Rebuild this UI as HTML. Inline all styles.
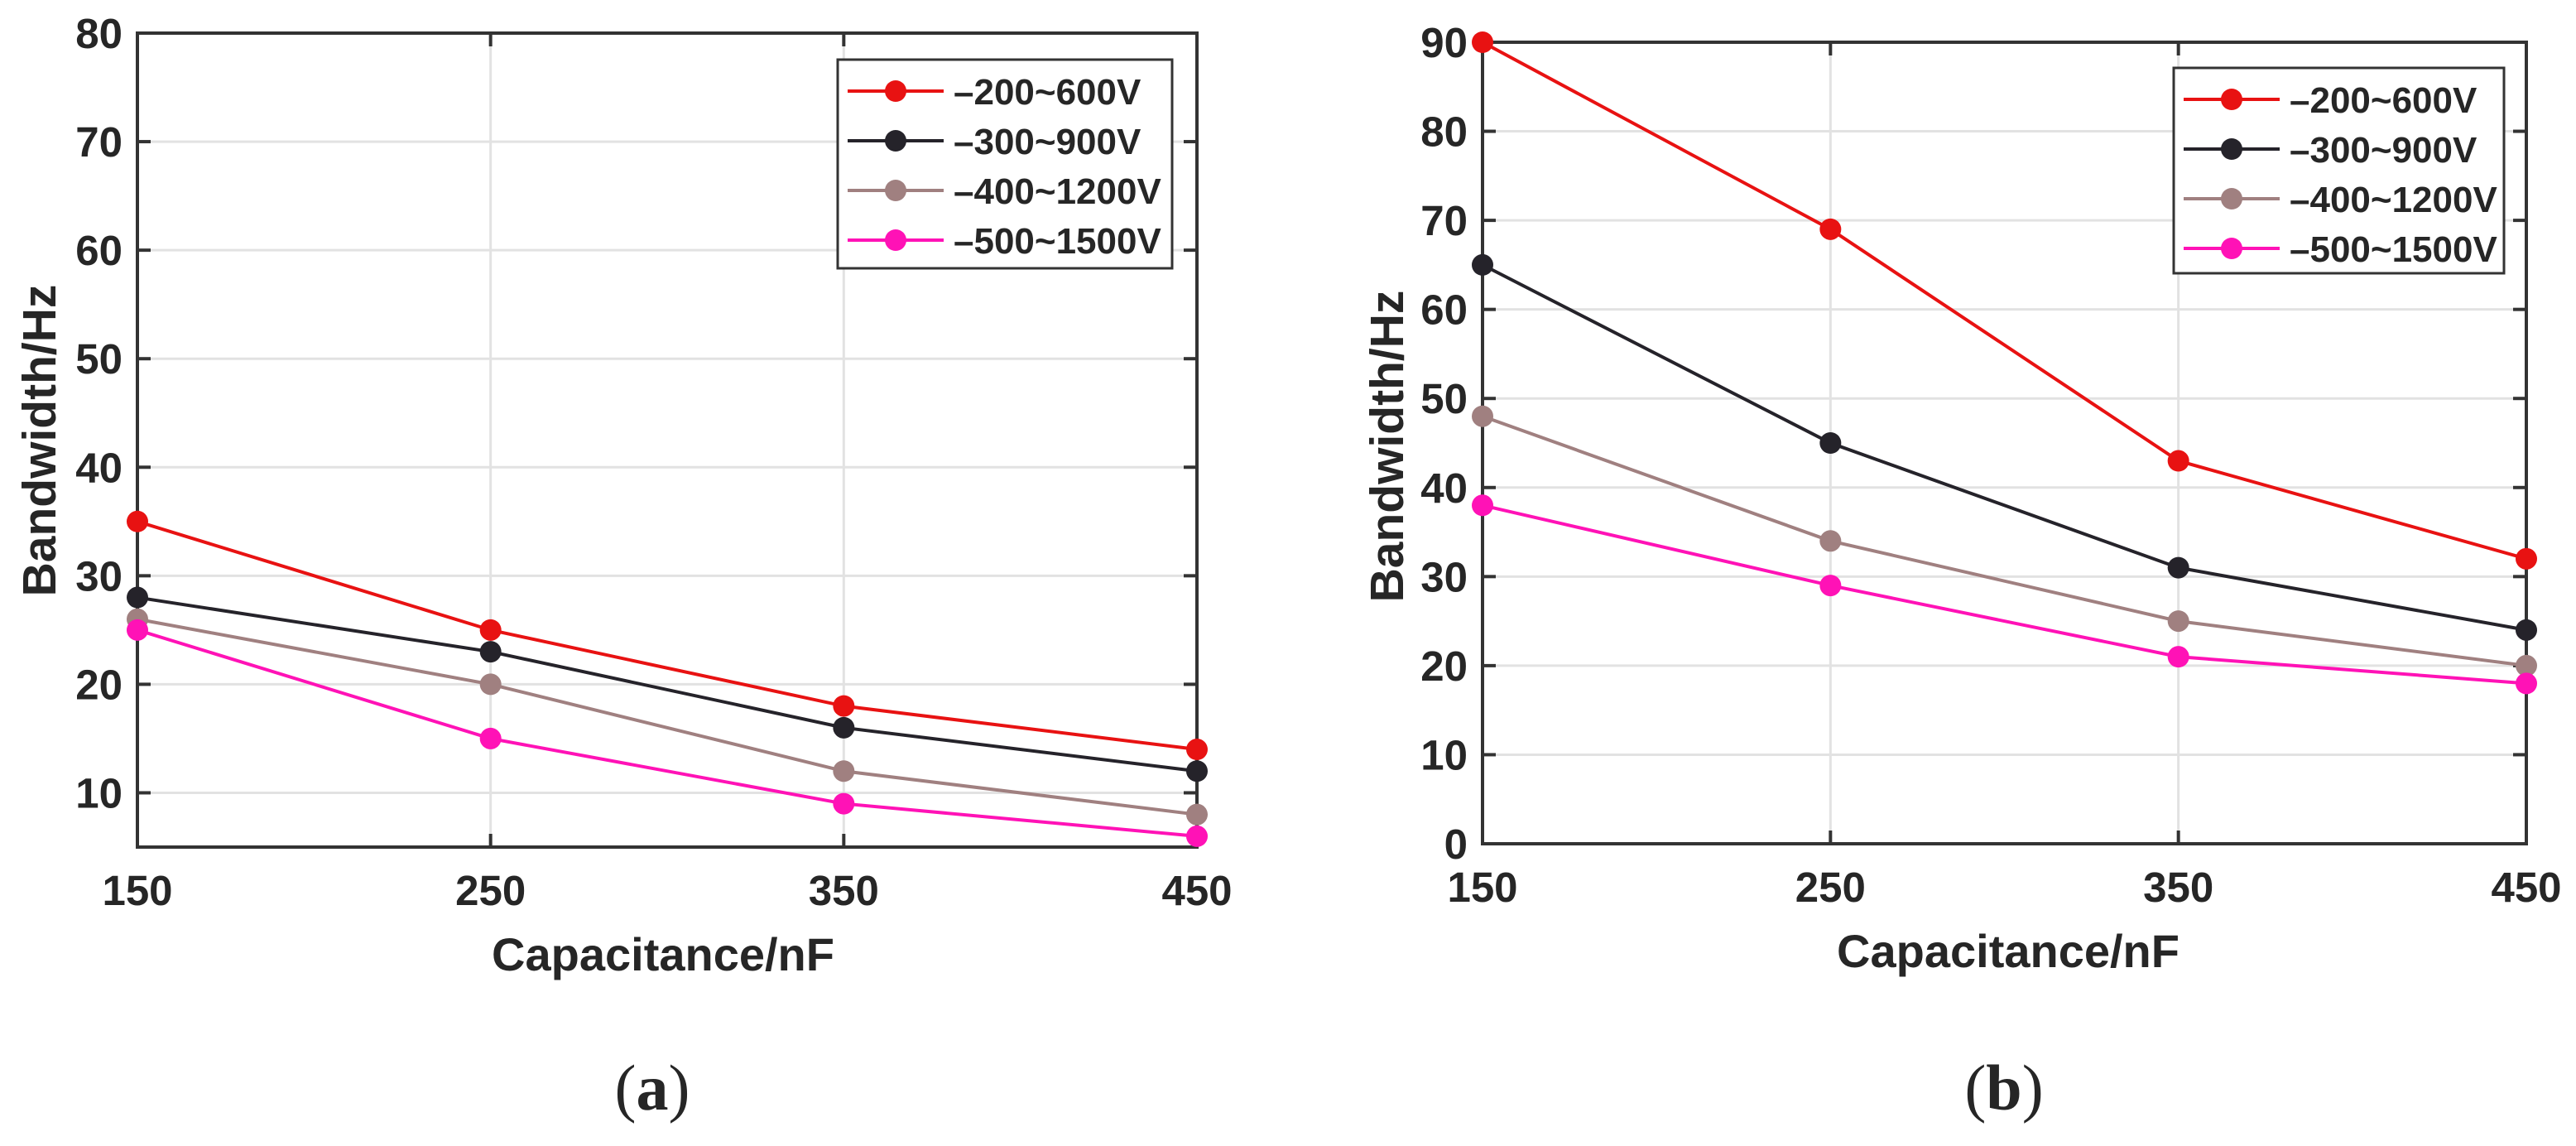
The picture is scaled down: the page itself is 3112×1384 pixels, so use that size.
<!DOCTYPE html>
<html><head><meta charset="utf-8"><style>
html,body{margin:0;padding:0;background:#fff;}
svg{display:block;}
text{font-family:"Liberation Sans",Arial,sans-serif;font-weight:bold;fill:#262626;}
</style></head><body>
<svg id="fig" width="3112" height="1384" viewBox="0 0 3112 1384" xmlns="http://www.w3.org/2000/svg"></svg>
<script>
const xCats = [150, 250, 350, 450];
const seriesNames = ["\u2013200~600V", "\u2013300~900V", "\u2013400~1200V", "\u2013500~1500V"];
const seriesColors = ["#e81212", "#25232a", "#a08080", "#ff12b6"];
const aRed = [35, 25, 18, 14];
const aBlack = [28, 23, 16, 12];
const aBrown = [26, 20, 12, 8];
const aPink = [25, 15, 9, 6];
const bRed = [90, 69, 43, 32];
const bBlack = [65, 45, 31, 24];
const bBrown = [48, 34, 25, 20];
const bPink = [38, 29, 21, 18];
const aYTicks = [10, 20, 30, 40, 50, 60, 70, 80];
const bYTicks = [0, 10, 20, 30, 40, 50, 60, 70, 80, 90];

const NS = "http://www.w3.org/2000/svg";
const svg = document.getElementById("fig");
function mk(tag, attrs, parent) {
  const e = document.createElementNS(NS, tag);
  for (const k in attrs) e.setAttribute(k, attrs[k]);
  (parent || svg).appendChild(e);
  return e;
}

function drawChart(cfg) {
  const g = mk("g", {});
  
  
  const xs = v => cfg.L + (v - 150) / 300 * (cfg.R - cfg.L);
  const ys = v => cfg.B - (v - cfg.ymin) / (cfg.ymax - cfg.ymin) * (cfg.B - cfg.T);
  // grid
  xCats.forEach(c => {
    if (c === 150 || c === 450) return;
    const l = mk("line", {x1: xs(c), x2: xs(c), y1: cfg.T, y2: cfg.B, stroke: "#e2e2e2", "stroke-width": 3}, g);
    
    
  });
  cfg.yticks.forEach(t => {
    if (t === cfg.ymin || t === cfg.ymax) return;
    const l = mk("line", {x1: cfg.L, x2: cfg.R, y1: ys(t), y2: ys(t), stroke: "#e2e2e2", "stroke-width": 3}, g);
    
    
  });
  // ticks
  cfg.yticks.forEach(t => {
    const y = ys(t);
    mk("line", {x1: cfg.L, x2: cfg.L + 16, y1: y, y2: y, stroke: "#333", "stroke-width": 4}, g);
    mk("line", {x1: cfg.R, x2: cfg.R - 16, y1: y, y2: y, stroke: "#333", "stroke-width": 4}, g);
    const tx = mk("text", {x: cfg.L - 18, y: y + 18, "text-anchor": "end", "font-size": 51}, g);
    tx.textContent = t;
    
    
  });
  xCats.forEach(c => {
    const x = xs(c);
    mk("line", {x1: x, x2: x, y1: cfg.B, y2: cfg.B - 16, stroke: "#333", "stroke-width": 4}, g);
    mk("line", {x1: x, x2: x, y1: cfg.T, y2: cfg.T + 16, stroke: "#333", "stroke-width": 4}, g);
    const tx = mk("text", {x: x, y: cfg.B + 70, "text-anchor": "middle", "font-size": 51}, g);
    tx.textContent = c;
    
    
  });
  // frame
  const fr = mk("rect", {x: cfg.L, y: cfg.T, width: cfg.R - cfg.L, height: cfg.B - cfg.T, fill: "none", stroke: "#333", "stroke-width": 4}, g);
  
  
  // series
  cfg.series.forEach((vals, i) => {
    const pts = vals.map((v, j) => xs(xCats[j]) + "," + ys(v)).join(" ");
    const pl = mk("polyline", {points: pts, fill: "none", stroke: seriesColors[i], "stroke-width": 4}, g);
    
    
    vals.forEach((v, j) => {
      const c = mk("circle", {cx: xs(xCats[j]), cy: ys(v), r: 13, fill: seriesColors[i]}, g);
      
      
    });
  });
  // legend
  const lg = mk("g", {}, g);
  
  
  mk("rect", {x: cfg.lgX, y: cfg.lgY, width: cfg.lgW, height: cfg.lgH, fill: "#fff", stroke: "#333", "stroke-width": 3}, lg);
  seriesNames.forEach((n, i) => {
    const y = cfg.lgY + 38 + i * 60;
    const x0 = cfg.lgX + 12;
    const e = mk("g", {}, lg);
    
    
    mk("line", {x1: x0, x2: x0 + 116, y1: y, y2: y, stroke: seriesColors[i], "stroke-width": 4}, e);
    mk("circle", {cx: x0 + 58, cy: y, r: 13, fill: seriesColors[i]}, e);
    const t = mk("text", {x: x0 + 128, y: y + 16, "font-size": 44, fill: "#111"}, e);
    t.textContent = n;
  });
  // axis titles
  const xt = mk("text", {x: cfg.xtX, y: cfg.xtY, "text-anchor": "middle", "font-size": 56}, g);
  xt.textContent = "Capacitance/nF";
  
  
  const yt = mk("text", {x: 0, y: 0, "text-anchor": "middle", "font-size": 57, transform: "translate(" + cfg.ytX + "," + cfg.ytY + ") rotate(-90)"}, g);
  yt.textContent = "Bandwidth/Hz";
  
  
  // caption
  const cp = mk("text", {x: cfg.capX, y: 1340, "text-anchor": "middle", "font-size": 78, style: "font-family:'Liberation Serif',serif;font-weight:normal", fill: "#000"}, g);
  cp.innerHTML = '(<tspan font-weight="bold">' + cfg.cap + '</tspan>)';
  
  
}

drawChart({name: "chart-a", L: 166, R: 1446, T: 40, B: 1023, ymin: 5, ymax: 80, yticks: aYTicks,
  series: [aRed, aBlack, aBrown, aPink], lgX: 1012, lgY: 72, lgW: 404, lgH: 252,
  xtX: 801, xtY: 1172, ytX: 67, ytY: 532, capX: 788, cap: "a"});
drawChart({name: "chart-b", L: 1791, R: 3052, T: 51, B: 1019, ymin: 0, ymax: 90, yticks: bYTicks,
  series: [bRed, bBlack, bBrown, bPink], lgX: 2626, lgY: 82, lgW: 399, lgH: 248,
  xtX: 2426, xtY: 1168, ytX: 1695, ytY: 539, capX: 2421, cap: "b"});
</script>
</body></html>
